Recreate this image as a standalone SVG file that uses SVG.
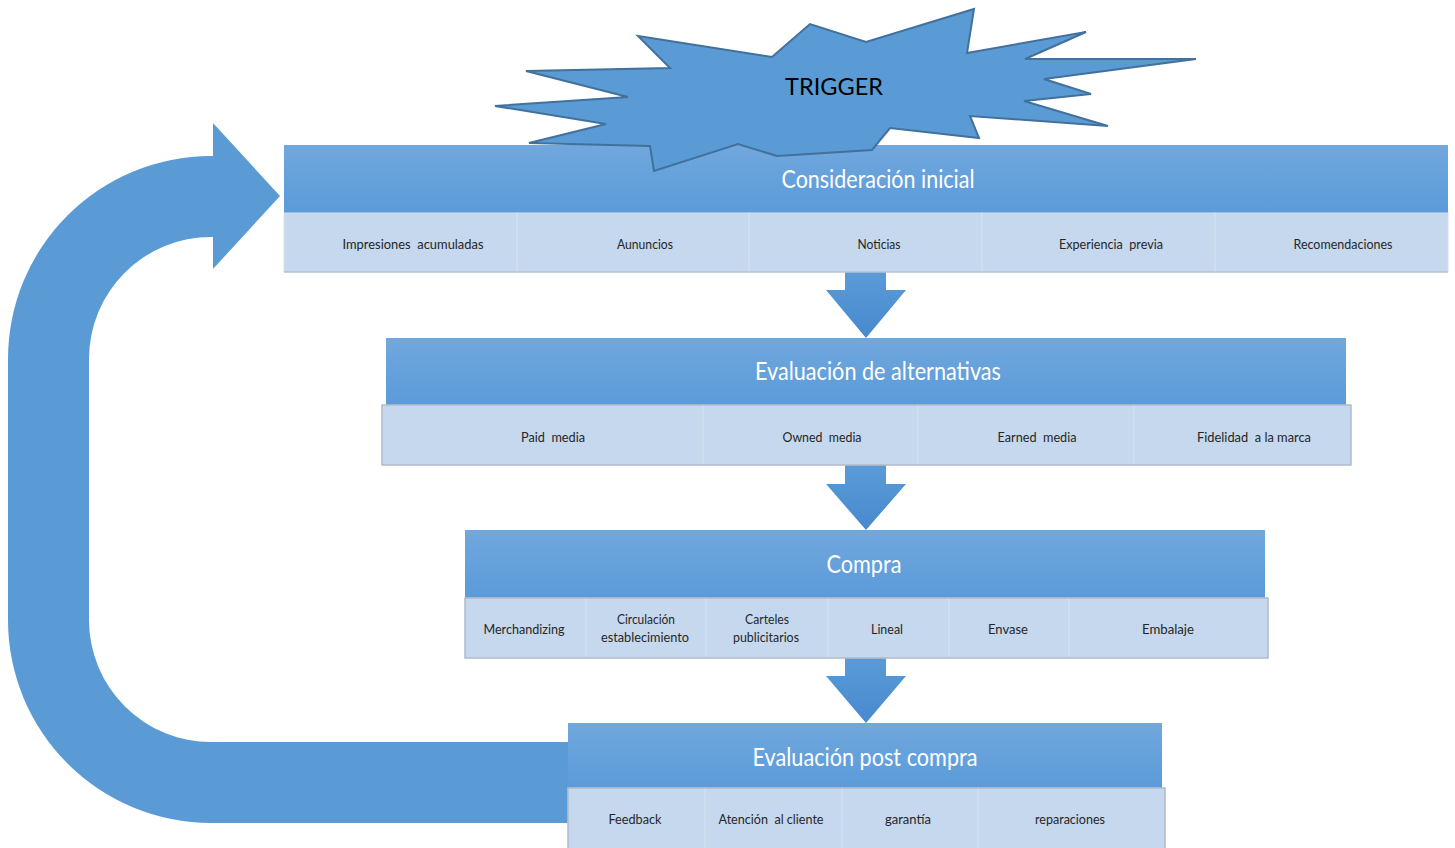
<svg xmlns="http://www.w3.org/2000/svg" width="1455" height="848" viewBox="0 0 1455 848">
<defs>
<linearGradient id="hdr" x1="0" y1="0" x2="0" y2="1">
<stop offset="0" stop-color="#71a7dd"/>
<stop offset="1" stop-color="#5a9bd9"/>
</linearGradient>
<linearGradient id="dn" x1="0" y1="0" x2="0" y2="1">
<stop offset="0" stop-color="#5a9bd7"/>
<stop offset="1" stop-color="#4889cf"/>
</linearGradient>
<style>
.hdr{fill:url(#hdr);}
.cell{fill:#c5d8ee;stroke:#d3e1f1;stroke-width:1;}
.row{fill:none;stroke:#a9b3bf;stroke-width:1.2;}
.ttl{font-family:Lato,"Open Sans","Liberation Sans",sans-serif;font-size:25px;fill:#ffffff;text-anchor:middle;}
.lbl{font-family:Lato,"Open Sans","Liberation Sans",sans-serif;font-size:14px;fill:#262626;text-anchor:middle;white-space:pre;}
.dn{fill:url(#dn);}
.loop{fill:#5b9bd5;}
.burst{fill:#5b9bd5;stroke:#41719c;stroke-width:2;stroke-linejoin:miter;}
.trig{font-family:Lato,"Open Sans","Liberation Sans",sans-serif;font-size:23px;fill:#000000;text-anchor:middle;}
</style>
</defs>

<g id="connectors">
<path id="loop-arrow" class="loop" d="M211,156 A203,203 0 0 0 8,359 L8,620 A203,203 0 0 0 211,823 L600,823 L600,742 L211,742 A122,122 0 0 1 89,620 L89,359 A122,122 0 0 1 211,237 L213,237 L213,269 L280,196 L213,123 L213,156 Z"/>
<path class="dn" d="M845,272 L886,272 L886,290 L906,290 L866,338 L826,290 L845,290 Z"/>
<path class="dn" d="M845,465 L886,465 L886,484 L906,484 L866,530 L826,484 L845,484 Z"/>
<path class="dn" d="M845,658 L886,658 L886,676 L906,676 L866,723 L826,676 L845,676 Z"/>
</g>

<g id="consideracion">
<rect class="hdr" x="284" y="145" width="1164" height="68"/>
<text class="ttl" x="878" y="188" textLength="193" lengthAdjust="spacingAndGlyphs">Consideración inicial</text>
<rect class="cell" x="284" y="213" width="233" height="59"/>
<rect class="cell" x="517" y="213" width="232" height="59"/>
<rect class="cell" x="749" y="213" width="233" height="59"/>
<rect class="cell" x="982" y="213" width="233" height="59"/>
<rect class="cell" x="1215" y="213" width="233" height="59"/>
<line class="row" x1="284" y1="272" x2="1448" y2="272"/>
<text class="lbl" x="413" y="249" textLength="141" lengthAdjust="spacingAndGlyphs">Impresiones  acumuladas</text>
<text class="lbl" x="645" y="249" textLength="56" lengthAdjust="spacingAndGlyphs">Aununcios</text>
<text class="lbl" x="879" y="249" textLength="43" lengthAdjust="spacingAndGlyphs">Noticias</text>
<text class="lbl" x="1111" y="249" textLength="104" lengthAdjust="spacingAndGlyphs">Experiencia  previa</text>
<text class="lbl" x="1343" y="249" textLength="99" lengthAdjust="spacingAndGlyphs">Recomendaciones</text>
</g>

<g id="alternativas">
<rect class="hdr" x="386" y="338" width="960" height="67"/>
<text class="ttl" x="878" y="380" textLength="246" lengthAdjust="spacingAndGlyphs">Evaluación de alternativas</text>
<rect class="cell" x="382" y="405" width="321" height="60"/>
<rect class="cell" x="703" y="405" width="215" height="60"/>
<rect class="cell" x="918" y="405" width="216" height="60"/>
<rect class="cell" x="1134" y="405" width="217" height="60"/>
<rect class="row" x="382" y="405" width="969" height="60"/>
<text class="lbl" x="553" y="442" textLength="64" lengthAdjust="spacingAndGlyphs">Paid  media</text>
<text class="lbl" x="822" y="442" textLength="79" lengthAdjust="spacingAndGlyphs">Owned  media</text>
<text class="lbl" x="1037" y="442" textLength="79" lengthAdjust="spacingAndGlyphs">Earned  media</text>
<text class="lbl" x="1254" y="442" textLength="114" lengthAdjust="spacingAndGlyphs">Fidelidad  a la marca</text>
</g>

<g id="compra">
<rect class="hdr" x="465" y="530" width="800" height="68"/>
<text class="ttl" x="864" y="573" textLength="75" lengthAdjust="spacingAndGlyphs">Compra</text>
<rect class="cell" x="465" y="598" width="121" height="60"/>
<rect class="cell" x="586" y="598" width="120" height="60"/>
<rect class="cell" x="706" y="598" width="122" height="60"/>
<rect class="cell" x="828" y="598" width="121" height="60"/>
<rect class="cell" x="949" y="598" width="120" height="60"/>
<rect class="cell" x="1069" y="598" width="199" height="60"/>
<rect class="row" x="465" y="598" width="803" height="60"/>
<text class="lbl" x="524" y="634" textLength="81" lengthAdjust="spacingAndGlyphs">Merchandizing</text>
<text class="lbl" x="646" y="624" textLength="58" lengthAdjust="spacingAndGlyphs">Circulación</text>
<text class="lbl" x="645" y="642" textLength="88" lengthAdjust="spacingAndGlyphs">establecimiento</text>
<text class="lbl" x="767" y="624" textLength="44" lengthAdjust="spacingAndGlyphs">Carteles</text>
<text class="lbl" x="766" y="642" textLength="66" lengthAdjust="spacingAndGlyphs">publicitarios</text>
<text class="lbl" x="887" y="634" textLength="32" lengthAdjust="spacingAndGlyphs">Lineal</text>
<text class="lbl" x="1008" y="634" textLength="40" lengthAdjust="spacingAndGlyphs">Envase</text>
<text class="lbl" x="1168" y="634" textLength="52" lengthAdjust="spacingAndGlyphs">Embalaje</text>
</g>

<g id="postcompra">
<rect class="hdr" x="568" y="723" width="594" height="65"/>
<text class="ttl" x="865" y="766" textLength="225" lengthAdjust="spacingAndGlyphs">Evaluación post compra</text>
<rect class="cell" x="568" y="788" width="137" height="62"/>
<rect class="cell" x="705" y="788" width="137" height="62"/>
<rect class="cell" x="842" y="788" width="136" height="62"/>
<rect class="cell" x="978" y="788" width="187" height="62"/>
<rect class="row" x="568" y="788" width="597" height="62"/>
<text class="lbl" x="635" y="824" textLength="53" lengthAdjust="spacingAndGlyphs">Feedback</text>
<text class="lbl" x="771" y="824" textLength="105" lengthAdjust="spacingAndGlyphs">Atención  al cliente</text>
<text class="lbl" x="908" y="824" textLength="46" lengthAdjust="spacingAndGlyphs">garantía</text>
<text class="lbl" x="1070" y="824" textLength="70" lengthAdjust="spacingAndGlyphs">reparaciones</text>
</g>

<g id="trigger">
<polygon class="burst" points="638,36 772,57 810,24 866,42 974,9 967,53 1086,32 1025,59 1196,59 1044,79 1091,94 1024,101 1108,126 970,116 979,138 890,128 872,150 777,156 738,144 654,171 650,146 529,143 606,124 495,106 628,97 526,71 670,68"/>
<text class="trig" x="834" y="95" textLength="98" lengthAdjust="spacingAndGlyphs">TRIGGER</text>
</g>
</svg>
